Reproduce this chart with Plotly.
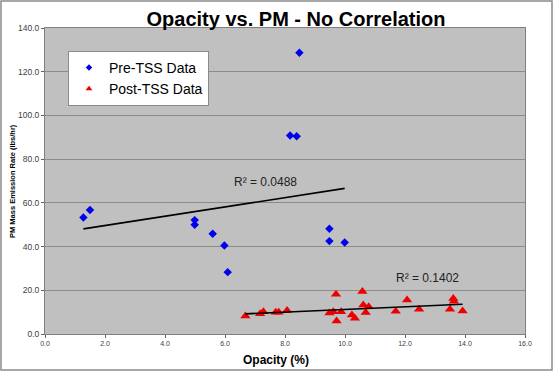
import numpy as np
import plotly.graph_objects as go

# Pre-TSS data (Opacity %, PM lbs/hr)
pre_opacity = [1.28, 1.50, 4.99, 4.99, 5.59, 5.98, 6.09, 8.48, 8.17, 8.39, 9.48, 9.48, 9.99]
pre_pm = [53.3, 56.7, 52.1, 50.0, 45.9, 40.5, 28.3, 128.7, 90.8, 90.5, 48.2, 42.5, 41.9]

# Post-TSS data
post_opacity = [6.68, 7.17, 7.28, 7.69, 7.79, 8.07, 9.48, 9.61, 9.70, 9.72, 9.87, 10.23,
                10.33, 10.58, 10.61, 10.69, 10.79, 11.69, 12.07, 12.47, 13.50, 13.61, 13.63, 13.92]
post_pm = [8.2, 9.3, 10.2, 10.0, 10.0, 10.8, 9.6, 10.2, 18.2, 5.9, 10.2, 8.7,
           7.2, 19.4, 13.3, 9.8, 12.5, 10.4, 15.6, 11.3, 11.3, 16.2, 15.0, 10.5]

r2_labels = ["R² = 0.0488", "R² = 0.1402"]
x_ticks = [0, 2, 4, 6, 8, 10, 12, 14, 16]
y_ticks = [0, 20, 40, 60, 80, 100, 120, 140]

FONT = "Liberation Sans, Arial, sans-serif"
BLUE = "#0000EE"
RED = "#EE0000"


def trend(xs, ys):
    xs = np.array(xs)
    ys = np.array(ys)
    m, b = np.polyfit(xs, ys, 1)
    xx = np.array([xs.min(), xs.max()])
    return xx, m * xx + b


fig = go.Figure()

fig.add_trace(go.Scatter(
    x=pre_opacity, y=pre_pm, mode="markers", name="Pre-TSS Data", showlegend=False,
    marker=dict(symbol="diamond", size=6.5, color=BLUE),
))
fig.add_trace(go.Scatter(
    x=post_opacity, y=post_pm, mode="markers", name="Post-TSS Data", showlegend=False,
    marker=dict(symbol="triangle-up", size=9, color=RED),
))
# legend entries with small markers, as in the reference
fig.add_trace(go.Scatter(x=[None], y=[None], mode="markers", name="Pre-TSS Data",
                         marker=dict(symbol="diamond", size=5, color=BLUE)))
fig.add_trace(go.Scatter(x=[None], y=[None], mode="markers", name="Post-TSS Data",
                         marker=dict(symbol="triangle-up", size=6, color=RED)))

tx, ty = trend(pre_opacity, pre_pm)
fig.add_trace(go.Scatter(x=tx, y=ty, mode="lines", line=dict(color="black", width=1.6),
                         showlegend=False, hoverinfo="skip"))
tx2, ty2 = trend(post_opacity, post_pm)
fig.add_trace(go.Scatter(x=tx2, y=ty2, mode="lines", line=dict(color="black", width=1.6),
                         showlegend=False, hoverinfo="skip"))

fig.add_annotation(x=7.35, y=69.7, text=r2_labels[0], showarrow=False,
                   xanchor="center", yanchor="middle",
                   font=dict(family=FONT, size=12, color="#222222"))
fig.add_annotation(x=12.75, y=25.4, text=r2_labels[1], showarrow=False,
                   xanchor="center", yanchor="middle",
                   font=dict(family=FONT, size=12, color="#222222"))

# x axis title
fig.add_annotation(xref="paper", yref="paper", x=(276 - 45) / 480, y=(334 - 359.5) / 306,
                   xanchor="center", yanchor="middle",
                   text="<b>Opacity (%)</b>", showarrow=False,
                   font=dict(family=FONT, size=12, color="black"))
# y axis title
fig.add_annotation(xref="paper", yref="paper", x=(12 - 45) / 480, y=(334 - 181) / 306,
                   xanchor="center", yanchor="middle",
                   text="<b>PM Mass Emission Rate (lbs/hr)</b>", showarrow=False, textangle=-90,
                   font=dict(family=FONT, size=7.5, color="black"))

# outer border
fig.add_shape(type="rect", xref="paper", yref="paper",
              x0=(1 - 45) / 480, x1=(552 - 45) / 480,
              y0=(334 - 370) / 306, y1=(334 - 1) / 306,
              line=dict(color="#8a8a8a", width=1.5), layer="below")

fig.update_layout(
    width=554, height=372,
    margin=dict(l=45, r=29, t=28, b=38),
    paper_bgcolor="white",
    plot_bgcolor="#C0C0C0",
    title=dict(text="<b>Opacity vs. PM - No Correlation</b>", x=296 / 554, xanchor="center",
               y=1 - 19 / 372, yanchor="middle",
               font=dict(family=FONT, size=20, color="black")),
    legend=dict(x=(68 - 45) / 480, y=(334 - 51) / 306, xanchor="left", yanchor="top",
                bgcolor="white", bordercolor="#8a8a8a", borderwidth=1,
                font=dict(family=FONT, size=14, color="black"),
                tracegroupgap=0, itemwidth=30),
    showlegend=True,
)

fig.update_xaxes(range=[0, 16], tickvals=x_ticks, ticktext=[f"{v:.1f}" for v in x_ticks],
                 showgrid=False, zeroline=False,
                 showline=True, linecolor="#808080", linewidth=1, mirror=True,
                 ticks="outside", ticklen=3, tickcolor="#606060",
                 tickfont=dict(family=FONT, size=7, color="#404040"))
fig.update_yaxes(range=[0, 140], tickvals=y_ticks, ticktext=[f"{v:.1f}" for v in y_ticks],
                 showgrid=True, gridcolor="#8c8c8c", gridwidth=1, zeroline=False,
                 showline=True, linecolor="#808080", linewidth=1, mirror=True,
                 ticks="outside", ticklen=3, tickcolor="#606060",
                 tickfont=dict(family=FONT, size=8.5, color="#404040"))

fig.write_html("out.html", post_script="document.body.style.margin='0';",
               config={"displayModeBar": False})
